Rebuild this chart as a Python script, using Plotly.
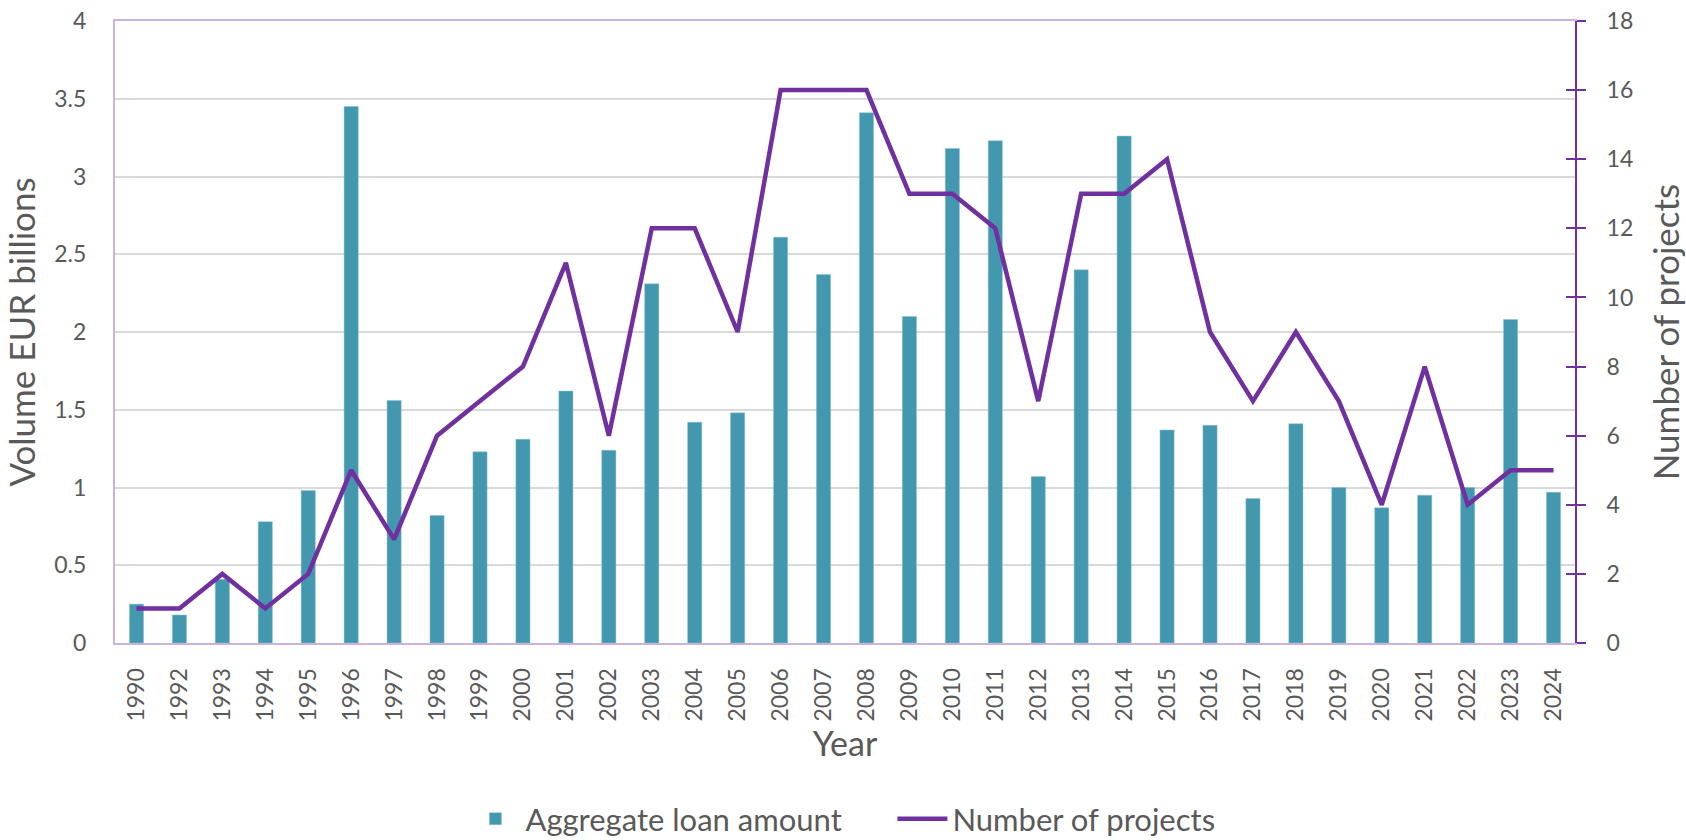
import plotly.graph_objects as go

years = ["1990", "1992", "1993", "1994", "1995", "1996", "1997", "1998", "1999", "2000",
         "2001", "2002", "2003", "2004", "2005", "2006", "2007", "2008", "2009", "2010",
         "2011", "2012", "2013", "2014", "2015", "2016", "2017", "2018", "2019", "2020",
         "2021", "2022", "2023", "2024"]
loan_amount = [0.25, 0.18, 0.41, 0.78, 0.98, 3.45, 1.56, 0.82, 1.23, 1.31,
               1.62, 1.24, 2.31, 1.42, 1.48, 2.61, 2.37, 3.41, 2.10, 3.18,
               3.23, 1.07, 2.40, 3.26, 1.37, 1.40, 0.93, 1.41, 1.00, 0.87,
               0.95, 1.00, 2.08, 0.97]
num_projects = [1, 1, 2, 1, 2, 5, 3, 6, 7, 8,
                11, 6, 12, 12, 9, 16, 16, 16, 13, 13,
                12, 7, 13, 13, 14, 9, 7, 9, 7, 4,
                8, 4, 5, 5]

TEXT = "#595959"
FONT = "Lato"
PURPLE = "#7030A0"

fig = go.Figure()
fig.add_trace(go.Bar(x=years, y=loan_amount, name="Aggregate loan amount",
                     marker=dict(color="#4397AE", line=dict(color="#8CC3D0", width=0.5)),
                     yaxis="y"))
fig.add_trace(go.Scatter(x=years, y=num_projects, name="Number of projects", mode="lines",
                         line=dict(color=PURPLE, width=4.5), yaxis="y2"))
# helper (invisible) trace carrying the inner half of the right-axis tick marks
fig.add_trace(go.Scatter(x=years, y=num_projects, mode="lines", line=dict(width=0),
                         opacity=0, showlegend=False, hoverinfo="skip", yaxis="y3"))

fig.update_layout(
    width=1686, height=840,
    margin=dict(l=115, r=111, t=21, b=197),
    paper_bgcolor="white", plot_bgcolor="white",
    font=dict(family=FONT, color=TEXT, size=23),
    bargap=0.67,
    showlegend=True,
    legend=dict(orientation="h", x=0.24, xanchor="left", yref="container", y=0.025,
                yanchor="middle", font=dict(size=31, color=TEXT), traceorder="normal",
                itemwidth=50, entrywidth=362, bgcolor="rgba(0,0,0,0)"),
    xaxis=dict(type="category", tickangle=-90, showline=True, mirror=True, automargin=False,
               linecolor="#C9B3DD", linewidth=2, showgrid=False, ticks="",
               ticklabelstandoff=14,
               tickfont=dict(size=23, color=TEXT),
               title=dict(text="Year", font=dict(size=34, color=TEXT), standoff=10)),
    yaxis=dict(range=[0, 4], dtick=0.5, showgrid=True, gridcolor="#D9D9D9", gridwidth=1.5,
               showline=True, linecolor="#C9B3DD", linewidth=2, zeroline=False, ticks="",
               automargin=False, ticklabelstandoff=22, ticklabeloverflow="allow",
               tickfont=dict(size=23, color=TEXT),
               title=dict(text="Volume EUR billions", font=dict(size=35, color=TEXT), standoff=14)),
    yaxis2=dict(range=[0, 18], dtick=2, overlaying="y", side="right", showgrid=False,
                showline=True, linecolor=PURPLE, linewidth=2, zeroline=False, automargin=False,
                ticks="outside", ticklen=9, tickwidth=2, tickcolor=PURPLE, ticklabelstandoff=16,
                ticklabeloverflow="allow",
                tickfont=dict(size=23, color=TEXT),
                title=dict(text="Number of projects", font=dict(size=35, color=TEXT), standoff=24)),
    yaxis3=dict(range=[0, 18], dtick=2, overlaying="y", side="right", showgrid=False,
                showline=False, zeroline=False, automargin=False, showticklabels=False,
                ticks="inside", ticklen=9, tickwidth=2, tickcolor=PURPLE),
)

fig.write_html("out.html", config={"displayModeBar": False},
               post_script="document.body.style.margin='0';document.body.style.overflow='hidden';")
